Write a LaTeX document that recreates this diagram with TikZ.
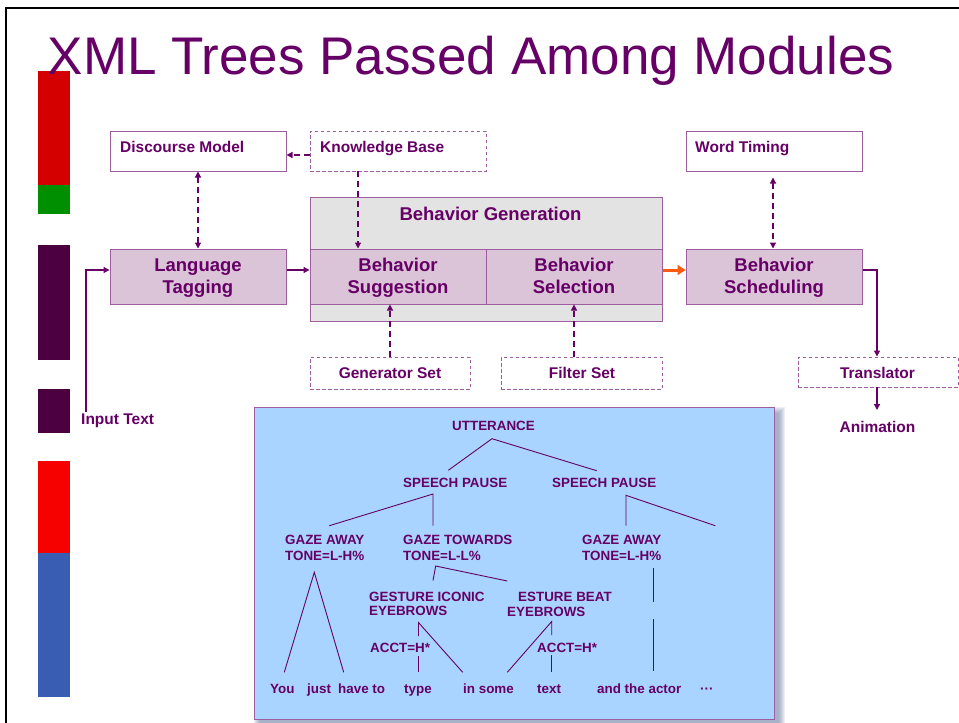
\documentclass[tikz,border=0pt]{standalone}
\usepackage{fontspec}
\setmainfont{Liberation Sans}
\usetikzlibrary{arrows.meta}

\definecolor{ink}{HTML}{660066}
\definecolor{edge}{HTML}{9E5E9E}
\definecolor{modfill}{HTML}{DBC3D8}
\definecolor{genfill}{HTML}{E3E3E3}
\definecolor{panel}{HTML}{A8D4FF}
\definecolor{panelshadow}{HTML}{6E7FA8}
\definecolor{flow}{HTML}{FF5A10}
\definecolor{barred}{HTML}{D40000}
\definecolor{bargreen}{HTML}{008F00}
\definecolor{barplum}{HTML}{4D003F}
\definecolor{barbright}{HTML}{F70000}
\definecolor{barblue}{HTML}{3A5DB4}

\tikzset{
  modbox/.style={draw=edge, line width=1pt, fill=modfill, inner sep=0pt},
  plainbox/.style={draw=edge, line width=1pt, fill=white, inner sep=0pt},
  dashbox/.style={draw=edge, line width=0.9pt, dash pattern=on 3.5pt off 2.5pt, inner sep=0pt},
  lbl/.style={text=ink, font=\fontsize{15.5}{18}\selectfont\bfseries, inner sep=0pt},
  big/.style={text=ink, font=\fontsize{18.5}{21.7}\selectfont\bfseries, inner sep=0pt},
  tree/.style={text=ink, font=\fontsize{13.4}{15}\selectfont\bfseries, inner sep=0pt, anchor=base west},
  tip/.tip={Triangle[length=6pt,width=6pt]},
  link/.style={draw=ink, line width=1.2pt, -tip},
  dlink/.style={link, dash pattern=on 6pt off 4pt},
  twoway/.style={dlink, tip-tip},
  branch/.style={draw=ink, line width=0.9pt},
}

\begin{document}
\begin{tikzpicture}[x=1pt, y=-1pt]
\useasboundingbox (0,0) rectangle (959,723);
\fill[white] (0,0) rectangle (959,723);

% slide frame
\draw[line width=2pt] (6,723) -- (6,8.2) -- (959,8.2);

% coloured side bars
\fill[barred]    (38,71)  rectangle (70,185);
\fill[bargreen]  (38,185) rectangle (70,214);
\fill[barplum]   (38,245) rectangle (70,360);
\fill[barplum]   (38,389) rectangle (70,433);
\fill[barbright] (38,461) rectangle (70,553);
\fill[barblue]   (38,553) rectangle (70,697);

% title
\node[text=ink, font=\fontsize{53}{60}\selectfont, inner sep=0pt, anchor=base west] (title) at (47.5,74.5) {XML Trees Passed Among Modules};

% ---------- module boxes ----------
\node[plainbox, minimum width=176pt, minimum height=40pt] (dm) at (198,151) {};
\node[dashbox,  minimum width=176pt, minimum height=40pt] (kb) at (398,151) {};
\node[plainbox, minimum width=176pt, minimum height=40pt] (wt) at (774,151) {};
\node[draw=edge, line width=1pt, fill=genfill, inner sep=0pt, minimum width=352pt, minimum height=124pt] (bg) at (486,259) {};
\node[modbox, minimum width=176pt, minimum height=55pt] (lt)   at (198,276.5) {};
\node[modbox, minimum width=176pt, minimum height=55pt] (bsug) at (398,276.5) {};
\node[modbox, minimum width=176pt, minimum height=55pt] (bsel) at (574,276.5) {};
\node[modbox, minimum width=176pt, minimum height=55pt] (bsch) at (774,276.5) {};
\node[dashbox, minimum width=160pt, minimum height=32pt] (gs) at (390,373) {};
\node[dashbox, minimum width=161pt, minimum height=32pt] (fs) at (581.5,373) {};
\node[dashbox, minimum width=160pt, minimum height=30pt] (tr) at (878,372) {};

% module labels
\node[lbl, anchor=base west] (dmt) at (120,152.3) {Discourse Model};
\node[lbl, anchor=base west] (kbt) at (320,152.3) {Knowledge Base};
\node[lbl, anchor=base west] (wtt) at (695,152.3) {Word Timing};
\node[big, anchor=base] (bgt) at (490.5,220.7) {Behavior Generation};
\node[big, anchor=base] (lt1) at (198,271.7) {Language};
\node[big, anchor=base] (lt2) at (198,293.3) {Tagging};
\node[big, anchor=base] (su1) at (398,271.7) {Behavior};
\node[big, anchor=base] (su2) at (398,293.3) {Suggestion};
\node[big, anchor=base] (se1) at (574,271.7) {Behavior};
\node[big, anchor=base] (se2) at (574,293.3) {Selection};
\node[big, anchor=base] (sc1) at (774,271.7) {Behavior};
\node[big, anchor=base] (sc2) at (774,293.3) {Scheduling};
\node[lbl, anchor=base] (gst) at (390,378.3) {Generator Set};
\node[lbl, anchor=base] (fst) at (582,378.3) {Filter Set};
\node[lbl, anchor=base] (trt) at (877.5,378.3) {Translator};
\node[lbl, anchor=base] (anim) at (877.5,432.3) {Animation};
\node[lbl, anchor=base west] (inp) at (81,424.3) {Input Text};
\coordinate (inpTop) at (86,412);
\coordinate (animTop) at (877,410);

% ---------- connectors ----------
\draw[dlink] ([yshift=-4pt]kb.west) -- ([yshift=-4pt]dm.east);
\draw[twoway] (dm.south) -- (lt.north);
\draw[dlink] ([xshift=-40pt]kb.south) -- ([xshift=-40pt]bsug.north);
\draw[twoway] ([xshift=-1pt,yshift=-6pt]wt.south) -- ([xshift=-1pt]bsch.north);
\draw[link] (inpTop) |- ([yshift=6.5pt]lt.west);
\draw[link] ([yshift=6.5pt]lt.east) -- ([yshift=6.5pt]bsug.west);
\draw[draw=flow, line width=3pt, -{Triangle[length=8pt,width=10pt]}] ([yshift=6.5pt]bsel.east) -- ([yshift=6.5pt]bsch.west);
\draw[link] ([yshift=6.5pt]bsch.east) -| ([xshift=-1pt]tr.north);
\draw[link] ([xshift=-1pt]tr.south) -- (animTop);
\draw[dlink] (gs.north) -- (gs.north |- bsug.south);
\draw[dlink] ([xshift=-7.5pt]fs.north) -- ([xshift=-7.5pt]fs.north |- bsel.south);

% ---------- XML tree panel ----------
\foreach \k in {0,...,6}
  \fill[panelshadow, opacity=0.12] (260-\k,413-\k) rectangle (779+\k,725+\k);
\node[draw=edge, line width=1pt, fill=panel, inner sep=0pt, minimum width=520pt, minimum height=312pt] (pnl) at (514,563) {};

\node[tree] (utt) at (452,430.5) {UTTERANCE};
\node[tree] (sp1) at (403,487.3) {SPEECH PAUSE};
\node[tree] (sp2) at (552,487.3) {SPEECH PAUSE};
\node[tree] (ga1) at (285,544.7) {GAZE AWAY};
\node[tree] (ga2) at (285,560) {TONE=L-H\%};
\node[tree] (gt1) at (403,544.7) {GAZE TOWARDS};
\node[tree] (gt2) at (403,560) {TONE=L-L\%};
\node[tree] (gr1) at (582,544.7) {GAZE AWAY};
\node[tree] (gr2) at (582,560) {TONE=L-H\%};
\node[tree] (gi1) at (369,601.3) {GESTURE ICONIC};
\node[tree] (gi2) at (369,615.3) {EYEBROWS};
\node[tree] (gb1) at (518,601.3) {ESTURE BEAT};
\node[tree] (gb2) at (507,616) {EYEBROWS};
\node[tree] (ac1) at (370,652.5) {ACCT=H*};
\node[tree] (ac2) at (537,652.5) {ACCT=H*};
\node[tree] (w1) at (270,693.3) {You};
\node[tree] (w2) at (307,693.3) {just};
\node[tree] (w3) at (338,693.3) {have to};
\node[tree] (w4) at (404,693.3) {type};
\node[tree] (w5) at (463,693.3) {in some};
\node[tree] (w6) at (537,693.3) {text};
\node[tree] (w7) at (597,693.3) {and the actor};
\node[tree] (w8) at (700,693.3) {···};

% branch points of the tree
\coordinate (uA) at (492,438.7);
\coordinate (uL) at (448.3,470.3);
\coordinate (uR) at (596.7,470.7);
\coordinate (s1A) at (433,494);
\coordinate (s1L) at (329.3,525.7);
\coordinate (s1R) at (433,525.7);
\coordinate (s2A) at (626,495.3);
\coordinate (s2L) at (626,525.7);
\coordinate (s2R) at (715.3,525.7);
\coordinate (gtA) at (435.7,566);
\coordinate (gtL) at (433,580.5);
\coordinate (gtR) at (507.3,581);
\coordinate (gaA) at (314.3,572.3);
\coordinate (gaL) at (284.3,672.3);
\coordinate (gaR) at (343.7,672.3);
\coordinate (giA) at (418.5,622.5);
\coordinate (giB) at (418.5,636);
\coordinate (giC) at (418.5,656);
\coordinate (giD) at (418.5,672.3);
\coordinate (giE) at (462.7,672.3);
\coordinate (gbA) at (551.7,621.5);
\coordinate (gbB) at (551.7,635);
\coordinate (gbC) at (551.7,655);
\coordinate (gbD) at (551.7,672.3);
\coordinate (gbE) at (507.3,672.3);
\coordinate (grA) at (653.5,568.3);
\coordinate (grB) at (653.5,602.3);
\coordinate (grC) at (653.5,619.3);
\coordinate (grD) at (653.5,671);

\draw[branch] (uL) -- (uA) -- (uR);
\draw[branch] (s1L) -- (s1A) -- (s1R);
\draw[branch] (s2L) -- (s2A) -- (s2R);
\draw[branch] (gtL) -- (gtA) -- (gtR);
\draw[branch] (gaL) -- (gaA) -- (gaR);
\draw[branch] (giB) -- (giA) -- (giE);
\draw[branch] (giC) -- (giD);
\draw[branch] (gbB) -- (gbA) -- (gbE);
\draw[branch] (gbC) -- (gbD);
\draw[branch] (grA) -- (grB);
\draw[branch] (grC) -- (grD);
\end{tikzpicture}
\end{document}
